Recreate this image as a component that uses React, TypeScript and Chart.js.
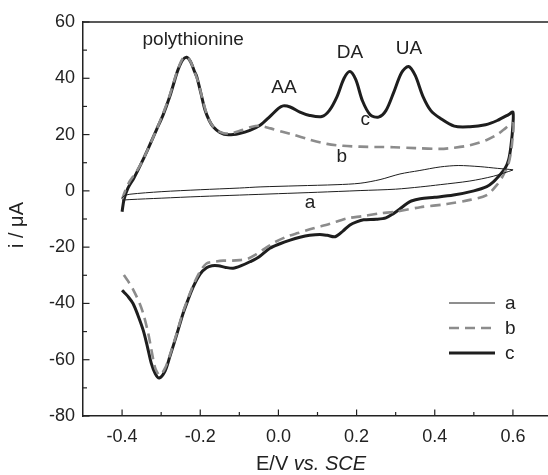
import React, { useEffect, useRef } from "react";
import { Chart, registerables } from "chart.js";

Chart.register(...registerables);

// ---- data (E / V vs SCE, i / µA), each curve a closed CV loop ----
const potentialA = [
  -0.4, -0.395, -0.38, -0.3, -0.2, -0.1, -0.047, 0.05, 0.15, 0.209, 0.26, 0.311, 0.36, 0.414, 0.46, 0.516, 0.56, 0.6,
  0.6, 0.55, 0.49, 0.414, 0.363, 0.3, 0.209, 0.1, 0.0, -0.1, -0.2, -0.3, -0.38, -0.4,
];
const currentA = [
  -2.5, -1.8, -1.2, -0.3, 0.4, 1.0, 1.4, 1.8, 2.2, 2.7, 4.0, 6.0, 7.2, 8.5, 9.0, 8.6, 8.0, 7.5,
  7.4, 5.2, 3.5, 2.2, 1.4, 0.6, 0.1, -0.5, -1.0, -1.5, -2.0, -2.6, -3.1, -3.3,
];

const potentialB = [
  -0.4, -0.392, -0.38, -0.365, -0.35, -0.335, -0.312, -0.295, -0.278, -0.265, -0.255, -0.245, -0.235, -0.225, -0.215,
  -0.205, -0.195, -0.185, -0.175, -0.16, -0.14, -0.12, -0.095, -0.07, -0.047, -0.02, 0.01, 0.039, 0.08, 0.124, 0.165,
  0.209, 0.25, 0.295, 0.35, 0.414, 0.448, 0.49, 0.533, 0.56, 0.576, 0.6,
  0.598, 0.594, 0.589, 0.575, 0.559, 0.533, 0.49, 0.431, 0.363, 0.3, 0.26, 0.215, 0.175, 0.13, 0.09, 0.05, 0.021,
  -0.01, -0.035, -0.056, -0.08, -0.099, -0.12, -0.141, -0.165, -0.184, -0.2, -0.218, -0.232, -0.244, -0.26, -0.278,
  -0.29, -0.303, -0.31, -0.316, -0.325, -0.333, -0.345, -0.355, -0.372, -0.385, -0.395, -0.4,
];
const currentB = [
  -3, 0, 3.5, 6.5, 10, 14.5, 21.7, 27.5, 34, 40, 44, 47, 47.5, 46, 42.5,
  38.5, 33, 28, 24.5, 21.8, 20.5, 20.5, 21.5, 22.7, 23.1, 22.2, 21, 19.9, 18.2, 16.7, 16,
  15.7, 15.6, 15.5, 15.2, 14.9, 15.3, 16.2, 18.1, 20, 21.7, 24,
  17, 13, 9.8, 5.5, 2.1, -1.5, -3.2, -4.7, -5.8, -7.4, -8, -9, -9.8, -11.8, -13.3, -15, -16.3,
  -18.3, -20.5, -22.5, -24.2, -24.6, -24.8, -24.8, -25.2, -25.8, -28.5, -33.5, -38.5, -43, -50.5, -58.5,
  -63, -65.5, -64.5, -62.6, -56.5, -50.7, -44, -40, -35, -32, -30, -28.8,
];

const potentialC = [
  -0.4, -0.395, -0.385, -0.37, -0.355, -0.335, -0.312, -0.295, -0.278, -0.265, -0.257, -0.245, -0.235, -0.225, -0.215,
  -0.209, -0.198, -0.188, -0.177, -0.167, -0.15, -0.128, -0.1, -0.073, -0.047, -0.022, 0.0, 0.012, 0.03, 0.055, 0.08,
  0.111, 0.13, 0.15, 0.168, 0.183, 0.198, 0.215, 0.235, 0.256, 0.275, 0.295, 0.315, 0.333, 0.35, 0.37, 0.39, 0.414,
  0.45, 0.49, 0.53, 0.56, 0.59, 0.6,
  0.6, 0.595, 0.589, 0.58, 0.567, 0.55, 0.533, 0.5, 0.448, 0.4, 0.363, 0.34, 0.328, 0.31, 0.295, 0.275, 0.25, 0.218,
  0.2, 0.183, 0.165, 0.145, 0.125, 0.106, 0.08, 0.055, 0.03, 0.004, -0.022, -0.05, -0.073, -0.095, -0.116, -0.135,
  -0.154, -0.17, -0.184, -0.2, -0.218, -0.232, -0.244, -0.26, -0.278, -0.29, -0.305, -0.315, -0.325, -0.335, -0.346,
  -0.36, -0.372, -0.385, -0.395, -0.4,
];
const currentC = [
  -7.4, -3, 1, 4.5, 8.6, 14.5, 21.7, 27, 33.5, 39.5, 43, 46.5, 47.5, 46, 42.5,
  40.6, 34.5, 28.8, 25, 22.8, 20.8, 19.9, 20.4, 21.5, 23.3, 26.4, 29.3, 30.2, 29.8, 28, 26.8,
  26.4, 28.5, 33.5, 40, 42.4, 39.5, 32, 27, 26.2, 28.5, 35, 42, 44.2, 41, 33.5, 28.5, 25.8,
  23, 22.8, 23.5, 25, 27.2, 28,
  23.5, 16, 11, 8, 5.7, 3.2, 1.5, 0, -1.5, -2.3, -2.8, -3.6, -4.6, -6.5, -8, -9.6, -10.1, -10.3,
  -11, -12.1, -14.3, -16.3, -15.8, -15.5, -15.8, -16.5, -17.5, -18.8, -20.4, -23.5, -25.2, -26.6, -27.5, -27.2,
  -26.6, -26.6, -27.3, -29.5, -34.1, -39, -43.6, -51, -59, -64, -66.5, -65, -61.4, -55.5, -49.5,
  -44, -40, -37.5, -36, -35.3,
];

const seriesLabels = ["a", "b", "c"];
const xTickValues = [-0.4, -0.2, 0.0, 0.2, 0.4, 0.6];
const xMinorTickValues = [-0.3, -0.1, 0.1, 0.3, 0.5];
const yTickValues = [-80, -60, -40, -20, 0, 20, 40, 60];
const yMinorTickValues = [-70, -50, -30, -10, 10, 30, 50];
const annotationTexts = ["polythionine", "AA", "DA", "UA", "c", "b", "a"];
const annotationX = [-0.218, 0.014, 0.183, 0.334, 0.222, 0.162, 0.081];
const annotationY = [53.7, 36.5, 49, 50.4, 25.2, 12.2, -4.2];

const FONT = "'Liberation Sans', Arial, Helvetica, sans-serif";
const INK = "#222222";

function toPoints(xs: number[], ys: number[]) {
  return xs.map((x, i) => ({ x, y: ys[i] }));
}

const decorPlugin = {
  id: "decor",
  afterDraw(chart: any) {
    const { ctx, chartArea, scales } = chart;
    const xs = scales.x;
    const ys = scales.y;
    ctx.save();
    // top frame line
    ctx.strokeStyle = INK;
    ctx.lineWidth = 1.5;
    ctx.beginPath();
    ctx.moveTo(chartArea.left, chartArea.top);
    ctx.lineTo(chartArea.right + 5, chartArea.top);
    ctx.stroke();
    // inward ticks
    ctx.lineWidth = 1.2;
    const drawX = (vals: number[], len: number) => {
      vals.forEach((v) => {
        const px = xs.getPixelForValue(v);
        ctx.beginPath();
        ctx.moveTo(px, chartArea.bottom);
        ctx.lineTo(px, chartArea.bottom - len);
        ctx.stroke();
      });
    };
    const drawY = (vals: number[], len: number) => {
      vals.forEach((v) => {
        const py = ys.getPixelForValue(v);
        ctx.beginPath();
        ctx.moveTo(chartArea.left, py);
        ctx.lineTo(chartArea.left + len, py);
        ctx.stroke();
      });
    };
    drawX(xTickValues, 6.5);
    drawX(xMinorTickValues, 4);
    drawY(yTickValues, 6.5);
    drawY(yMinorTickValues, 4);

    // annotations
    ctx.fillStyle = INK;
    ctx.font = `19px ${FONT}`;
    ctx.textAlign = "center";
    ctx.textBaseline = "middle";
    annotationTexts.forEach((t, i) => {
      ctx.fillText(t, xs.getPixelForValue(annotationX[i]), ys.getPixelForValue(annotationY[i]));
    });

    // legend
    const legendRows = [303, 328, 353];
    chart.data.datasets.forEach((ds: any, i: number) => {
      const y = legendRows[i];
      ctx.save();
      ctx.strokeStyle = ds.borderColor;
      ctx.lineWidth = ds.borderWidth;
      ctx.setLineDash(ds.borderDash || []);
      ctx.beginPath();
      ctx.moveTo(449, y);
      ctx.lineTo(495, y);
      ctx.stroke();
      ctx.restore();
      ctx.fillStyle = INK;
      ctx.font = `19px ${FONT}`;
      ctx.textAlign = "left";
      ctx.textBaseline = "middle";
      ctx.fillText(ds.label, 505, y + 1);
    });

    // x-axis title with italic part
    const parts = [
      { t: "E/V ", f: `20px ${FONT}` },
      { t: "vs. SCE", f: `italic 20px ${FONT}` },
    ];
    let total = 0;
    parts.forEach((p) => {
      ctx.font = p.f;
      total += ctx.measureText(p.t).width;
    });
    let cx = 311 - total / 2;
    ctx.textAlign = "left";
    ctx.textBaseline = "alphabetic";
    parts.forEach((p) => {
      ctx.font = p.f;
      ctx.fillText(p.t, cx, 470);
      cx += ctx.measureText(p.t).width;
    });

    // y-axis title
    ctx.save();
    ctx.translate(17, 225);
    ctx.rotate(-Math.PI / 2);
    ctx.font = `20px ${FONT}`;
    ctx.textAlign = "center";
    ctx.textBaseline = "middle";
    ctx.fillText("i / \u03BCA", 0, 0);
    ctx.restore();

    ctx.restore();
  },
};

export default function App() {
  const canvasRef = useRef<HTMLCanvasElement | null>(null);

  useEffect(() => {
    const canvas = canvasRef.current;
    if (!canvas) return;
    const chart = new Chart(canvas, {
      type: "scatter",
      data: {
        datasets: [
          {
            label: seriesLabels[0],
            data: toPoints(potentialA, currentA),
            showLine: true,
            borderColor: "#1e1e1e",
            borderWidth: 1,
            pointRadius: 0,
            tension: 0.3,
            fill: false,
          },
          {
            label: seriesLabels[1],
            data: toPoints(potentialB, currentB),
            showLine: true,
            borderColor: "#8c8c8c",
            borderWidth: 2.6,
            borderDash: [10, 6],
            pointRadius: 0,
            tension: 0.3,
            fill: false,
          },
          {
            label: seriesLabels[2],
            data: toPoints(potentialC, currentC),
            showLine: true,
            borderColor: "#1e1e1e",
            borderWidth: 3,
            pointRadius: 0,
            tension: 0.3,
            fill: false,
          },
        ],
      },
      options: {
        animation: false,
        responsive: false,
        maintainAspectRatio: false,
        layout: { padding: { top: 22, right: 18, left: 0, bottom: 0 } },
        plugins: { legend: { display: false }, tooltip: { enabled: false } },
        scales: {
          x: {
            type: "linear",
            min: -0.5,
            max: 0.7,
            afterBuildTicks: (scale: any) => {
              scale.ticks = xTickValues.map((v) => ({ value: v }));
            },
            afterFit: (scale: any) => {
              scale.height = 59;
            },
            grid: { display: true, drawOnChartArea: false, drawTicks: false },
            border: { display: true, color: INK, width: 1.5 },
            ticks: {
              padding: 10,
              color: INK,
              font: { family: FONT, size: 18 },
              callback: (v: any) => Number(v).toFixed(1),
            },
          },
          y: {
            type: "linear",
            min: -80,
            max: 60,
            afterBuildTicks: (scale: any) => {
              scale.ticks = yTickValues.map((v) => ({ value: v }));
            },
            afterFit: (scale: any) => {
              scale.width = 83;
            },
            grid: { display: true, drawOnChartArea: false, drawTicks: false },
            border: { display: true, color: INK, width: 1.5 },
            ticks: {
              padding: 8,
              color: INK,
              font: { family: FONT, size: 18 },
              callback: (v: any) => String(v),
            },
          },
        },
      },
      plugins: [decorPlugin],
    });
    return () => chart.destroy();
  }, []);

  return (
    <div style={{ position: "absolute", left: 0, top: 0, width: 548, height: 475, overflow: "hidden", background: "#fff" }}>
      <canvas ref={canvasRef} width={570} height={475} style={{ width: 570, height: 475, display: "block" }} />
    </div>
  );
}
